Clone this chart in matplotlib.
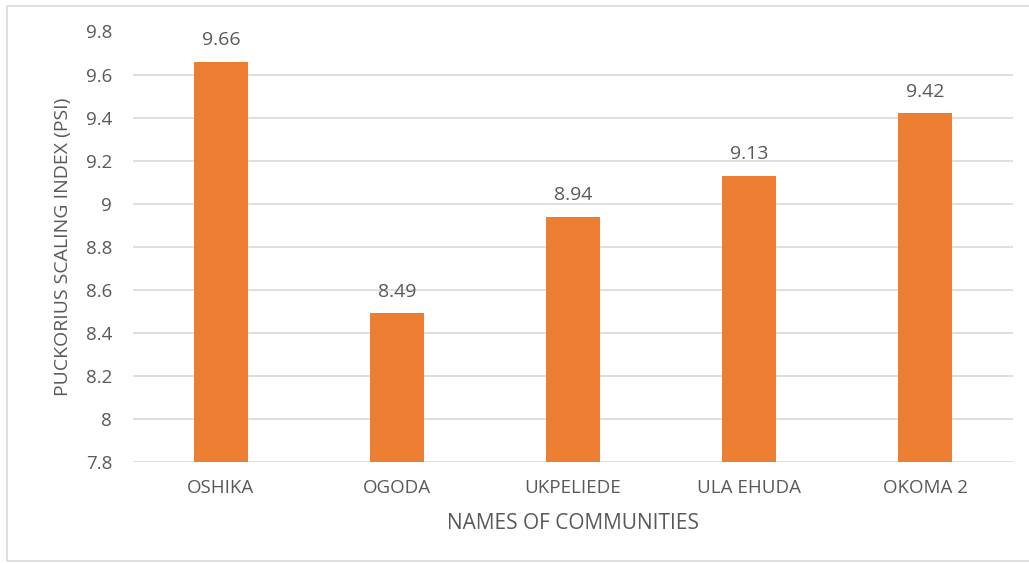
import matplotlib
matplotlib.use("Agg")
import matplotlib.pyplot as plt
from matplotlib.patches import Rectangle

communities = ["OSHIKA", "OGODA", "UKPELIEDE", "ULA EHUDA", "OKOMA 2"]
psi_values = [9.66, 8.49, 8.94, 9.13, 9.42]
y_ticks = [7.8, 8, 8.2, 8.4, 8.6, 8.8, 9, 9.2, 9.4, 9.6, 9.8]
y_tick_labels = ["7.8", "8", "8.2", "8.4", "8.6", "8.8", "9", "9.2", "9.4", "9.6", "9.8"]

text_color = "#595959"
bar_color = "#ED7D31"
grid_color = "#D9D9D9"

plt.rcParams["font.family"] = ["Open Sans", "DejaVu Sans"]

fig = plt.figure(figsize=(10.29, 5.63), dpi=100)
fig.patches.append(Rectangle((7 / 1029, 1 - 561 / 563), 1.2, (561 - 6) / 563,
                             transform=fig.transFigure, fill=False,
                             edgecolor="#D9D9D9", linewidth=1.2))

ax = fig.add_axes([133 / 1029, 1 - 462 / 563, (1013 - 133) / 1029, (462 - 31.5) / 563])
x = range(len(communities))
bars = ax.bar(x, psi_values, width=0.31, color=bar_color, zorder=3)

for xi, v in zip(x, psi_values):
    ax.annotate(f"{v:.2f}", (xi, v), xytext=(0, 9), textcoords="offset points",
                ha="center", va="bottom", fontsize=14, color=text_color)

ax.set_ylim(7.8, 9.8)
ax.set_xlim(-0.5, len(communities) - 0.5)
ax.set_yticks(y_ticks)
ax.set_yticklabels(y_tick_labels)
ax.set_xticks(list(x))
ax.set_xticklabels(communities)
ax.tick_params(axis="both", length=0, labelsize=13.5, labelcolor=text_color)
ax.tick_params(axis="y", pad=15)
ax.tick_params(axis="x", pad=12)
ax.grid(axis="y", color=grid_color, linewidth=1.2, zorder=0)
for s in ax.spines.values():
    s.set_visible(False)

ax.set_xlabel("NAMES OF COMMUNITIES", fontsize=15, color=text_color, labelpad=12)
ax.set_ylabel("PUCKORIUS SCALING INDEX (PSI)", fontsize=14, color=text_color, labelpad=10)

fig.savefig("out.png", dpi=100, facecolor="white")
